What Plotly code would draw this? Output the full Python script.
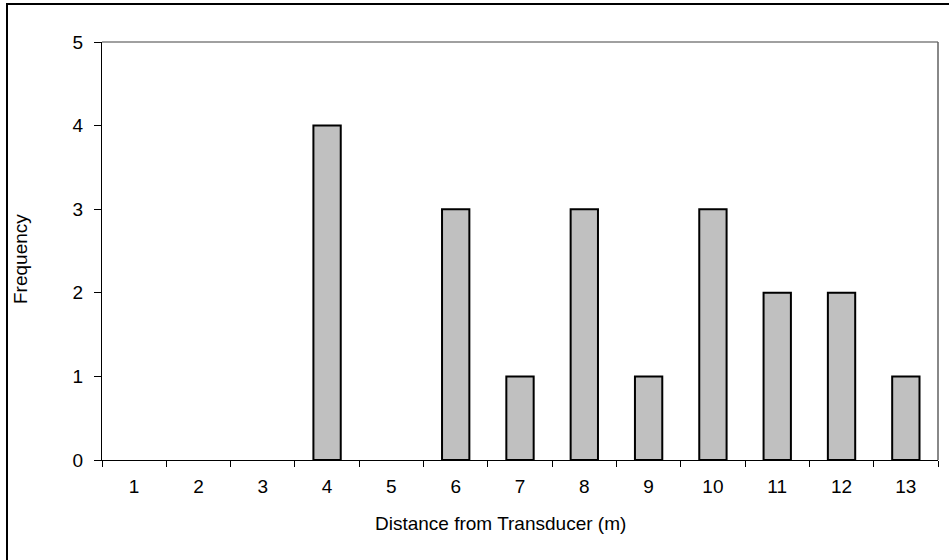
import plotly.graph_objects as go

categories = ["1", "2", "3", "4", "5", "6", "7", "8", "9", "10", "11", "12", "13"]
frequency = [0, 0, 0, 4, 0, 3, 1, 3, 1, 3, 2, 2, 1]
y_ticks = [0, 1, 2, 3, 4, 5]
x_title = "Distance from Transducer (m)"
y_title = "Frequency"

W, H = 949, 560
L, R, T, B = 102, 11, 42, 100
pw, ph = W - L - R, H - T - B

def px(x):
    return (x - L) / pw

def py(y):
    return (H - B - y) / ph

font = dict(family="Liberation Sans, Arial, sans-serif", size=19, color="black")

outline_widths = [2 if v > 0 else 0 for v in frequency]

fig = go.Figure(go.Bar(
    x=categories, y=frequency,
    marker=dict(color="#C0C0C0", line=dict(color="black", width=outline_widths)),
))

fig.update_layout(
    width=W, height=H,
    margin=dict(l=L, r=R, t=T, b=B),
    paper_bgcolor="white", plot_bgcolor="white",
    bargap=0.575,
    showlegend=False,
    font=font,
    xaxis=dict(
        type="category", categoryorder="array", categoryarray=categories,
        showline=True, linecolor="black", linewidth=1,
        ticks="outside", tickson="boundaries", ticklen=6, tickcolor="black",
        showgrid=False, zeroline=False, tickfont=font, ticklabelstandoff=9,
    ),
    yaxis=dict(
        range=[0, 5], tickvals=y_ticks,
        showline=True, linecolor="black", linewidth=1,
        ticks="outside", ticklen=7, tickcolor="black",
        showgrid=False, zeroline=False, tickfont=font, ticklabelstandoff=7,
    ),
    shapes=[
        dict(type="line", xref="paper", yref="paper", x0=0, x1=1, y0=1, y1=1,
             line=dict(color="#808080", width=1.5)),
        dict(type="line", xref="paper", yref="paper", x0=1, x1=1, y0=0, y1=1,
             line=dict(color="#606060", width=1.5)),
        dict(type="rect", xref="paper", yref="paper",
             x0=px(7), x1=px(965), y0=py(4), y1=py(580),
             line=dict(color="black", width=2), layer="below"),
    ],
    annotations=[
        dict(text=x_title, xref="paper", yref="paper", x=px(500), y=py(523),
             showarrow=False, xanchor="center", yanchor="middle", font=font),
        dict(text=y_title, xref="paper", yref="paper", x=px(20), y=py(259),
             showarrow=False, xanchor="center", yanchor="middle", textangle=-90, font=font),
    ],
)

fig.write_html("out.html", config={"displayModeBar": False},
               post_script="document.body.style.margin='0';document.body.style.overflow='hidden';")
